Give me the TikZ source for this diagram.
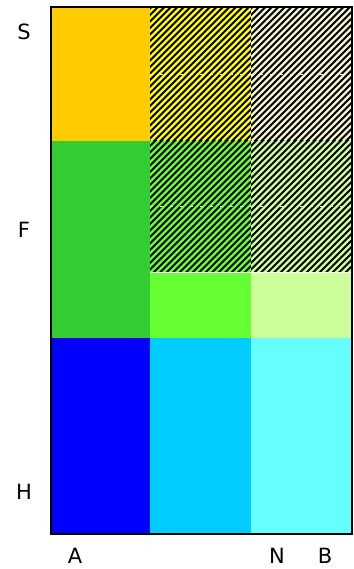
\documentclass[tikz,border=0pt]{standalone}
\usepackage{fontspec}
\setmainfont{DejaVu Sans}
\definecolor{cYellow}{HTML}{FFCC00}
\definecolor{cGreen}{HTML}{33CC33}
\definecolor{cBlue}{HTML}{0000FF}
\definecolor{cCyan}{HTML}{00CCFF}
\definecolor{cLCyan}{HTML}{66FFFF}
\definecolor{cBGreen}{HTML}{66FF33}
\definecolor{cLGreen}{HTML}{CCFF99}
\definecolor{cHYellow}{HTML}{FFFF00}
\definecolor{cCream}{HTML}{F4F4D0}
\tikzset{
  lbl/.style={font=\fontsize{21}{24}\selectfont, inner sep=0pt},
  stripe/.style={black, line width=2pt},
}
\newcommand{\hatchrect}[5]{%
  \fill[#5] (#1,#2) rectangle (#3,#4);
  \begin{scope}
    \clip (#1,#2) rectangle (#3,#4);
    \foreach \c in {-300,-293.5,...,420} {
      \draw[stripe] (#1+\c,#4+5) -- ++(300,-300);
    }
  \end{scope}%
}
\begin{document}
\begin{tikzpicture}[x=1pt,y=-1pt]
\useasboundingbox (0,0) rectangle (353,569);
\fill[white] (0,0) rectangle (353,569);
% left column
\fill[cYellow] (51,7) rectangle (150,141);
\fill[cGreen] (51,141) rectangle (150,338);
\fill[cBlue] (51,338) rectangle (150,534);
% middle & right bottom
\fill[cCyan] (150,338) rectangle (251,534);
\fill[cLCyan] (251,338) rectangle (352,534);
\fill[cBGreen] (150,273) rectangle (251,338);
\fill[cLGreen] (251,273) rectangle (352,338);
% hatched areas
\hatchrect{150}{7}{251}{141}{cHYellow}
\hatchrect{251}{7}{352}{141}{cCream}
\hatchrect{150}{141}{251}{272}{cBGreen}
\hatchrect{251}{141}{352}{272}{cLGreen}
\draw[white, line width=1pt] (150,272.5) -- (352,272.5);
\draw[white, line width=0.5pt, dash pattern=on 3pt off 7pt] (150,74) -- (352,74);
\draw[white, line width=0.5pt, dash pattern=on 3pt off 7pt] (150,206) -- (352,206);
% outer frame
\draw[black, line width=2pt] (51,7) rectangle (352,534);
% labels
\node[lbl] (s) at (24,32) {S};
\node[lbl] (f) at (24,230) {F};
\node[lbl] (h) at (24,492) {H};
\node[lbl] (a) at (75,556) {A};
\node[lbl] (n) at (277,556) {N};
\node[lbl] (b) at (325,556) {B};
\end{tikzpicture}
\end{document}
